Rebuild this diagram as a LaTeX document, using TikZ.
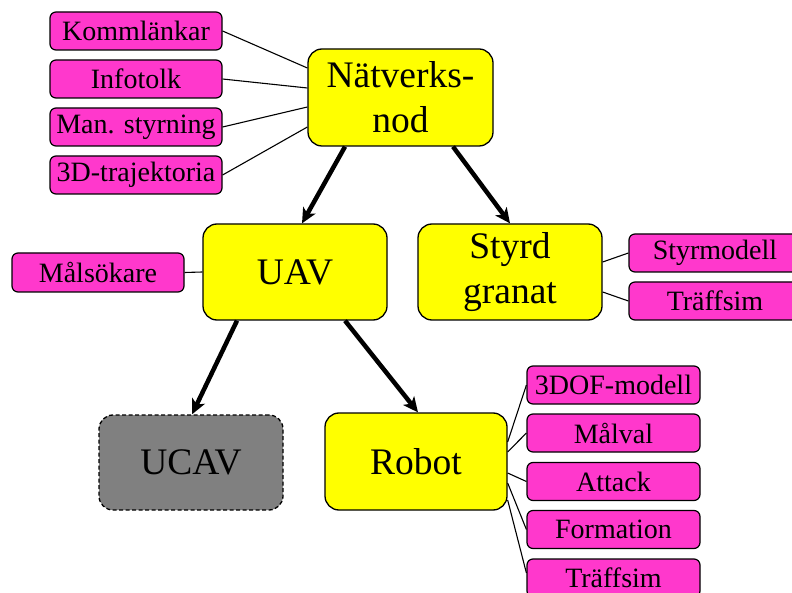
\documentclass[tikz,border=0pt]{standalone}
\usepackage{fontspec}
\setmainfont{LiberationSerif}[Extension=.ttf,UprightFont=*-Regular,BoldFont=*-Bold]
\usetikzlibrary{arrows.meta}
\definecolor{mag}{HTML}{FF38CC}
\definecolor{yel}{HTML}{FFFF00}
\begin{document}
\begin{tikzpicture}[x=1pt,y=-1pt,
  small/.style={draw=black,line width=1.2pt,fill=mag,rounded corners=6pt,
    minimum width=172pt,minimum height=38pt,inner sep=0pt,
    font=\fontsize{28}{30}\selectfont},
  big/.style={draw=black,line width=1.3pt,fill=yel,rounded corners=14pt,
    minimum width=184pt,minimum height=96pt,inner sep=0pt,align=center,
    font=\fontsize{37.5}{45}\selectfont},
  thin/.style={line width=1.1pt},
  thick arrow/.style={line width=4.5pt,-{Stealth[length=15pt,width=14pt,inset=4pt]}}]
\useasboundingbox (0,0) rectangle (792,593);
% top
\node[big,minimum width=185pt,minimum height=97pt] (nat) at (400.5,97.5) {Nätverks-\\nod};
\node[small] (k1) at (136,31) {Kommlänkar};
\node[small] (k2) at (136,79) {Infotolk};
\node[small] (k3) at (136,127) {Man. styrning};
\node[small] (k4) at (136,175) {3D-trajektoria};
% middle
\node[big] (uav) at (295,272) {UAV};
\node[small,minimum height=39pt] (ms) at (98,272.5) {Målsökare};
\node[big] (sg) at (510,272) {Styrd\\granat};
\node[small] (sm) at (715,253) {Styrmodell};
\node[small] (tf1) at (715,301) {Träffsim};
% bottom
\node[big,fill=black!50,dashed,dash pattern=on 4pt off 2.5pt,minimum height=95pt] (ucav) at (191,462.5) {UCAV};
\node[big,minimum width=182pt,minimum height=97pt] (rob) at (416,461.5) {Robot};
\node[small,minimum width=173pt] (r1) at (613.5,385) {3DOF-modell};
\node[small,minimum width=173pt] (r2) at (613.5,433) {Målval};
\node[small,minimum width=173pt] (r3) at (613.5,481.5) {Attack};
\node[small,minimum width=173pt] (r4) at (613.5,529.5) {Formation};
\node[small,minimum width=173pt] (r5) at (613.5,578) {Träffsim};
% thin connectors
\draw[thin] (k1.east) -- ([yshift=29.5pt]nat.west);
\draw[thin] (k2.east) -- ([yshift=9.5pt]nat.west);
\draw[thin] (k3.east) -- ([yshift=-9.5pt]nat.west);
\draw[thin] (k4.east) -- ([yshift=-29.5pt]nat.west);
\draw[thin] (ms.east) -- (uav.west);
\draw[thin] ([yshift=10pt]sg.east) -- (sm.west);
\draw[thin] ([yshift=-20pt]sg.east) -- (tf1.west);
\draw[thin] ([yshift=19.5pt]rob.east) -- (r1.west);
\draw[thin] ([yshift=9.5pt]rob.east) -- (r2.west);
\draw[thin] ([yshift=-11.5pt]rob.east) -- (r3.west);
\draw[thin] ([yshift=-21.5pt]rob.east) -- (r4.west);
\draw[thin] ([yshift=-38.5pt]rob.east) -- ([yshift=5pt]r5.west);
% arrows
\draw[thick arrow] ([xshift=-55.5pt]nat.south) -- ([xshift=7pt]uav.north);
\draw[thick arrow] ([xshift=52.5pt]nat.south) -- (sg.north);
\draw[thick arrow] ([xshift=-58pt]uav.south) -- ([xshift=1pt]ucav.north);
\draw[thick arrow] ([xshift=50pt]uav.south) -- ([xshift=2pt]rob.north);
\end{tikzpicture}
\end{document}
